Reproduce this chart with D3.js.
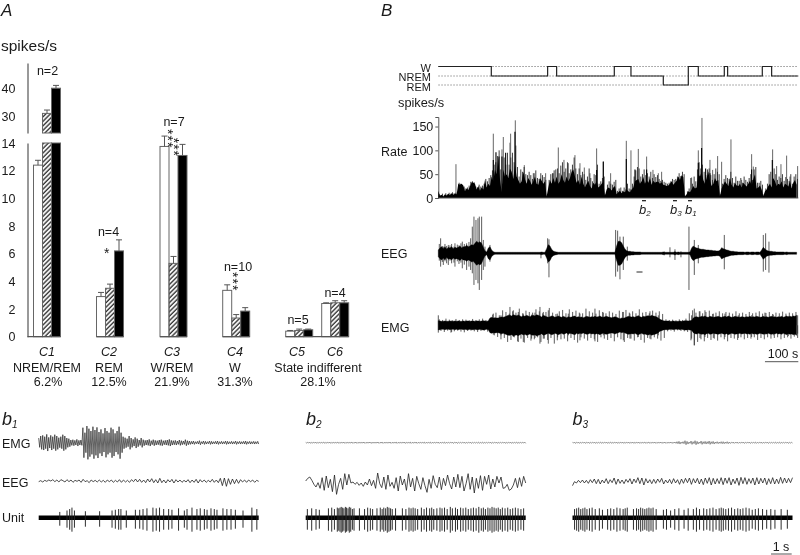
<!DOCTYPE html>
<html>
<head>
<meta charset="utf-8">
<script src="https://cdn.jsdelivr.net/npm/d3@7.9.0/dist/d3.min.js"></script>
<style>
  html, body { margin: 0; padding: 0; background: #fff; }
  svg { display: block; filter: blur(0.3px); }
  text { font-family: "Liberation Sans", Arial, sans-serif; fill: #1a1a1a; }
</style>
</head>
<body>
<svg id="fig" width="800" height="555"></svg>
<script>
// panel A
const categories = ["C1", "C2", "C3", "C4", "C5", "C6"];
const classNames = ["NREM/REM", "REM", "W/REM", "W", "", ""];
const classPct = ["6.2%", "12.5%", "21.9%", "31.3%", "", ""];
const cellCounts = ["n=2", "n=4", "n=7", "n=10", "n=5", "n=4"];
const wakeRates = [12.4, 2.9, 13.75, 3.35, 0.4, 2.4];
const wakeErrTop = [12.75, 3.2, 14.5, 3.75, 0.45, 2.45];
const nremRates = [31, 3.5, 5.3, 1.35, 0.45, 2.45];
const nremErrTop = [32.2, 3.8, 5.8, 1.6, 0.55, 2.6];
const remRates = [40, 6.2, 13.1, 1.85, 0.5, 2.45];
const remErrTop = [41, 7.0, 13.9, 2.1, 0.55, 2.6];
const lowTicks = [0, 2, 4, 6, 8, 10, 12, 14];
const highTicks = [30, 40];

// panel B, times in seconds
const hypnoSteps = [[0, 2], [159, 1], [328, 2], [355, 1], [528, 2], [578, 1], [675, 0], [750, 2], [780, 1], [858, 2], [868, 1], [972, 2], [1000, 1], [1080, 1]];
const hypnoStates = ["REM", "NREM", "W"];
const rateTicks = [0, 50, 100, 150];
// 5 s bins
const rateBins = [
  15,4,7,3,8,5,9,6,10,7,9,8,
  30,28,30,26,14,20,17,24,33,32,30,18,
  25,15,22,18,38,22,30,25,45,35,60,50,
  85,40,12,60,45,50,42,62,55,40,70,45,
  38,30,35,55,40,30,42,36,28,35,45,30,
  28,42,36,30,35,3,22,38,30,42,32,45,
  30,35,50,38,32,45,35,42,55,60,45,32,
  38,28,45,30,22,30,36,25,20,32,28,36,
  22,25,30,34,5,18,22,20,16,22,25,8,
  12,15,10,14,12,18,14,12,18,22,35,38,
  40,30,35,44,30,38,32,42,28,36,32,34,
  34,30,33,28,27,25,26,30,35,28,32,36,
  45,38,48,44,3,8,14,12,18,25,20,22,
  50,45,55,38,30,42,56,36,25,30,42,35,
  38,4,20,28,35,30,25,42,28,22,32,26,
  25,30,22,32,28,24,30,36,26,40,50,20,
  22,26,18,4,14,18,25,30,22,42,35,25,
  30,28,35,22,30,28,24,36,20,32,38,28
];
// tops of the thin bars between the bins
const rateTops = [
  8,6,9,5,10,7,11,9,12,10,11,12,
  32,30,27,24,20,22,26,34,35,33,24,22,
  28,24,26,30,40,35,42,48,58,70,75,88,
  100,60,30,85,70,95,70,85,95,75,110,65,
  45,60,55,65,50,48,55,48,40,52,58,42,
  40,52,48,44,38,6,38,50,52,58,60,62,
  52,68,75,55,62,75,52,60,70,85,62,50,
  62,48,55,50,38,45,62,42,35,50,48,70,
  30,35,42,45,8,28,35,30,28,34,38,15,
  20,22,15,22,18,30,20,18,30,45,58,65,
  62,45,50,60,48,52,45,55,42,50,44,48,
  40,36,38,34,32,30,32,35,40,38,40,45,
  52,46,55,50,5,14,20,42,30,45,35,60,
  75,62,70,55,48,60,62,48,38,50,62,55,
  50,8,30,40,48,42,40,55,42,32,45,36,
  36,42,32,45,38,34,42,50,38,60,65,32,
  32,36,28,8,20,30,50,55,40,62,50,38,
  45,42,50,36,44,40,36,50,30,45,50,40
];
const ratePeaksGray = [[53,71],[165,135],[191,102],[195,128],[215,116],[217,135],[231,163],[258,69],[285,52],[322,52],[345,52],[360,106],[377,80],[390,73],[410,90],[425,73],[438,64],[455,52],[475,104],[495,77],[517,52],[564,120],[578,100],[600,103],[625,87],[644,59],[660,52],[670,55],[760,43],[780,100],[791,168],[815,80],[823,59],[838,88],[850,76],[878,123],[910,38],[940,92],[945,66],[1003,102],[1015,67],[1028,71],[1045,89],[1055,45],[1078,67]];
const ratePeaksBlack = [[165,80],[173,96],[182,87],[191,87],[202,95],[230,139],[475,59],[495,76],[564,82],[590,60],[625,60],[790,105],[802,62],[940,60],[1002,80],[780,74],[815,52]];
// envelope half heights, 5 s bins
const eegCore = [
  10,16,20,14,20,12,18,16,20,14,18,16,
  18,22,16,20,20,24,20,22,26,24,30,36,
  32,35,30,18,8,4,16,20,10,5,3,3,
  3,3,3,3,3,3,3,3,3,3,3,3,
  3,3,3,3,3,3,3,3,3,3,3,3,
  3,3,4,3,3,14,26,22,12,7,5,4,
  3,3,3,3,3,3,3,3,3,3,3,3,
  3,3,3,3,3,3,3,3,3,3,3,3,
  3,3,3,3,3,3,3,3,3,3,3,22,
  36,36,32,22,13,8,6,6,5,5,4,4,
  4,4,3,3,3,3,3,3,3,3,3,3,
  3,3,3,4,3,3,3,3,3,3,5,3,
  4,3,3,3,3,3,3,4,16,22,18,16,
  15,13,12,12,11,10,10,9,9,8,8,7,
  7,9,17,14,12,10,9,7,6,6,5,5,
  4,4,4,4,3,4,4,3,4,4,3,4,
  4,3,10,18,13,9,7,6,6,5,5,4,
  4,4,4,4,3,4,3,3,3,3,3,3
];
const eegSpikes = [[3,28,22],[7,45,40],[12,22,26],[15,20,35],[20,28,24],[25,22,30],[30,25,35],[35,24,22],[40,28,30],[47,20,28],[50,30,40],[57,26,24],[62,24,32],[68,30,28],[72,35,45],[78,28,34],[85,30,50],[92,34,40],[97,45,50],[102,80,60],[107,110,95],[113,100,80],[119,105,90],[123,110,110],[130,110,80],[135,40,50],[140,20,40],[155,25,25],[308,3,15],[328,45,30],[332,42,72],[532,70,70],[538,68,55],[545,50,78],[555,50,50],[567,20,22],[678,5,6],[695,18,12],[710,12,20],[728,6,12],[752,80,110],[768,40,65],[780,25,30],[858,55,48],[975,55,55],[982,60,50],[992,35,58]];
const emgCore = [
  14,13,12,12,13,12,12,13,12,12,13,12,
  13,12,12,13,12,13,13,12,13,13,12,13,
  13,12,13,14,13,12,13,22,24,22,23,22,
  22,24,25,24,26,28,30,30,28,32,30,29,
  31,28,26,29,27,30,28,26,29,30,28,32,
  30,28,25,30,28,26,24,26,28,27,24,26,
  28,26,24,27,25,23,26,24,25,27,28,24,
  26,24,25,23,25,27,26,24,26,25,27,25,
  26,28,25,24,26,27,25,24,23,24,26,24,
  22,20,22,21,23,25,27,26,25,26,24,27,
  28,26,24,27,26,28,29,27,30,28,27,25,
  22,18,16,14,13,13,13,12,12,13,12,12,
  12,13,12,13,14,14,13,14,15,22,25,26,
  24,25,27,26,28,25,24,27,26,24,25,26,
  27,25,24,26,27,25,28,26,24,25,27,26,
  25,24,26,25,24,26,25,27,24,26,25,27,
  26,24,25,27,25,26,24,26,27,25,26,24,
  26,25,27,24,26,28,25,27,26,28,27,30
];
// thin deflections around the envelope, 10 s bins
const emgFringeUp = [18,16,20,17,15,19,16,18,17,15,19,16,18,20,16,17,32,38,30,45,40,35,42,38,50,36,44,40,38,48,42,36,40,52,38,34,42,46,36,48,40,44,38,36,50,42,38,35,45,40,36,42,38,34,44,40,46,38,42,36,48,38,40,36,44,38,42,34,18,16,17,15,18,16,20,36,45,38,42,36,40,44,34,38,42,36,40,38,35,42,36,38,34,40,36,38,42,35,37,40,34,38,36,41,35,38,36,40];
const emgFringeDown = [17,20,16,22,18,16,19,21,17,16,18,20,17,16,19,18,30,35,42,38,50,44,36,48,40,52,38,46,42,36,50,40,44,38,55,36,42,40,48,38,44,52,36,40,46,38,42,50,36,40,44,38,48,36,42,50,38,40,46,36,44,52,38,42,36,40,46,38,18,16,19,15,17,18,20,45,60,50,42,48,38,44,40,46,36,42,48,38,40,44,36,42,38,40,36,44,38,42,36,40,38,36,42,38,36,40,34,38];
const emgSpikes = [[0,30,22],[40,14,20],[165,35,28],[188,30,30],[215,55,30],[225,45,35],[240,40,50],[255,35,50],[280,32,40],[290,38,38],[305,55,55],[315,40,40],[330,45,55],[357,35,45],[390,35,30],[425,35,45],[470,50,48],[495,38,30],[555,40,45],[575,35,40],[600,30,35],[635,42,40],[660,30,30],[768,50,60],[760,30,40],[785,42,38],[800,45,35],[825,35,38],[860,35,35],[900,30,38],[940,30,35],[980,38,28],[1005,32,30],[1050,28,32],[1078,30,25]];
const markers = [["b", "2", 617], ["b", "3", 710], ["b", "1", 755]];

// panel b traces
const b1Emg = [14,20,22,18,25,16,22,18,24,20,15,18,24,20,14,12,8,9,7,10,7,8,45,30,50,42,35,48,38,46,32,40,28,44,35,30,45,40,28,35,48,30,18,15,12,20,14,10,16,12,8,14,9,7,8,10,6,9,7,6,8,9,6,7,8,10,7,6,7,5,8,6,5,9,6,5,4,5,3,4,6,3,5,4,3,5,4,3,4,5,3,4,3,5,4,3,4,3,5,3,4,3,4,5,3,4,3,4,3,4];
const b2Emg = [1,1,2,1,1,2,1,1,1,2,1,1,2,1,1,1,2,1,1,2,1,1,1,2,1,2,1,1,1,2,1,1,2,1,1,1,2,1,2,1,1,1,2,1,1,2,1,1,1,2,1,1,2,1,1,2,1,1,1,2,1,1,2,1,1,1,2,1,1,2,1,1,1,2,1,2,1,1,1,2,1,1,2,1,1,1,2,1,2,1,1,1,2,1,1,2,1,1,1,2,1,1,2,1,1,2,1,1,1,2];
const b3Emg = [1,2,1,2,1,1,2,1,2,1,1,2,1,1,2,1,1,2,1,2,1,1,2,1,1,2,1,1,2,1,2,1,1,2,1,1,2,1,2,1,1,2,1,1,2,1,2,1,1,2,1,2,3,4,2,3,6,4,2,5,3,6,4,2,5,3,4,3,5,3,4,2,3,2,3,3,2,3,2,1,2,1,2,1,1,2,1,1,2,1,1,2,1,1,2,1,1,2,1,1,1,2,1,2,1,1,1,2,1,1];
const b1Eeg = [-2,1,-3,2,-1,3,0,4,-2,3,-3,4,1,-3,4,-2,3,-4,2,-1,3,-4,5,-2,1,-5,3,-2,2,-3,3,-3,2,-4,3,-2,3,-4,2,-3,4,-4,3,-3,2,-4,4,-2,6,-3,5,-4,3,-5,6,-3,7,-5,4,-6,8,-5,3,-6,4,-3,5,-6,4,-3,3,-4,2,-3,4,-5,3,-4,5,-6,4,-3,3,-4,2,-3,5,-4,3,-5,8,-14,9,-16,7,-10,6,-8,5,-7,4,-3,3,-4,3,-2,3,-4,2,-1];
const b2Eeg = [0,8,12,2,-10,-18,-5,-22,10,-28,15,-20,5,-32,18,-40,-10,8,-25,22,-12,20,-6,-3,-10,-4,-13,-6,-16,-3,-12,6,-14,2,-22,24,-8,-20,12,-25,18,-16,-4,-22,10,-30,15,-12,6,-28,22,-18,8,-30,14,-8,-25,10,-14,-34,5,-22,16,-10,-20,12,-26,8,-14,18,-8,-24,12,-18,20,-20,14,-30,-8,22,-25,12,-36,8,-22,16,-28,14,-10,18,-24,6,-18,14,-6,12,-22,-20,-10,-28,-24,-12,8,-20,10,-16,14,-6];
const b3Eeg = [-14,-2,-6,2,-5,3,-6,2,-7,4,-5,6,-8,5,-9,3,-6,7,-8,4,-5,9,-10,6,-7,3,-8,5,-4,7,-9,6,-5,10,-8,9,-12,7,-6,4,-8,5,-7,6,-4,8,-9,3,-6,5,-8,7,-6,4,-10,6,-7,8,-5,9,-10,7,-6,8,-9,6,-11,9,-7,10,-12,8,-9,7,-8,10,-11,9,-7,10,-12,6,-8,9,-13,11,-8,10,-10,7,-7,9,-12,10,-9,8,-6,9,-11,7,-8,10,-9,6,-8,11,-7,9,-6,8,-5,10];
const b1Spikes = [1.02,1.37,1.5,1.61,1.73,2.26,2.95,3.55,3.71,3.87,3.98,4.24,4.68,4.89,5.05,5.24,5.53,5.69,5.85,6.05,6.29,6.45,6.77,7.05,7.18,7.42,7.66,7.82,8.02,8.15,8.34,8.5,8.63,8.92,9.11,9.31,9.52,9.89,10.32,10.56];
const b1Depth = [8,10,12,14,10,9,9,10,11,12,12,10,11,11,12,13,14,13,14,12,12,11,13,10,12,14,12,13,12,11,13,12,11,13,12,12,11,10,14,12];
const b2Spikes = [.08,.29,.5,.66,1.1,1.26,1.39,1.53,1.6,1.66,1.72,1.79,1.85,1.92,1.98,2.05,2.11,2.18,2.26,2.34,2.6,2.85,3.0,3.13,3.24,3.45,3.61,3.7,3.78,3.87,3.95,4.03,4.11,4.19,4.35,4.68,4.85,5.0,5.1,5.2,5.3,5.42,5.6,5.73,5.85,6.0,6.1,6.2,6.35,6.5,6.6,6.72,6.85,7.0,7.1,7.25,7.35,7.5,7.62,7.75,7.87,8.0,8.12,8.25,8.38,8.5,8.6,8.7,8.82,8.92,9.02,9.12,9.22,9.32,9.42,9.52,9.65,9.78,9.9,10.02,10.15,10.28,10.42,10.55];
const b2Depth = [12,13,12,11,13,14,12,14,13,14,15,14,13,15,14,13,15,14,12,13,13,12,14,13,12,13,14,12,14,13,15,14,13,12,13,13,12,14,13,14,13,12,14,12,14,13,14,12,13,14,13,14,12,15,13,14,12,14,13,14,12,13,14,13,15,13,14,12,14,13,15,14,13,14,12,14,13,14,12,13,14,13,12,13];
const b3Spikes = [.1,.2,.3,.4,.5,.6,.7,.82,.95,1.1,1.3,1.45,1.7,1.85,2.0,2.15,2.3,2.45,2.55,2.65,2.95,3.1,3.2,3.3,3.4,3.5,3.6,3.7,3.8,3.9,4.05,4.4,4.55,4.75,4.95,5.15,5.4,5.6,5.85,6.0,6.15,6.35,6.5,6.65,6.8,6.95,7.1,7.2,7.3,7.42,7.55,7.7,7.85,8.0,8.12,8.25,8.4,8.55,8.7,8.85,9.0,9.2,9.4,9.6,9.8,10.1,10.4];
const b3Depth = [12,13,14,12,13,14,12,13,14,12,13,11,12,13,12,14,13,12,13,14,12,13,12,14,13,12,13,14,13,14,12,11,12,10,12,13,11,13,12,14,12,13,12,13,14,12,13,14,13,12,13,14,12,13,12,13,14,13,11,12,13,12,11,12,11,12,11];

const svg = d3.select("#fig");
const ink = "#111";
const soft = "#555";

function label(str, x, y, size, opts = {}) {
    return svg.append("text")
        .attr("x", x)
        .attr("y", y)
        .attr("font-size", size)
        .attr("text-anchor", opts.anchor || "start")
        .attr("font-style", opts.italic ? "italic" : "normal")
        .text(str);
}

// hatch fill
svg.append("defs").append("pattern")
    .attr("id", "hatch")
    .attr("width", 3.2)
    .attr("height", 3.2)
    .attr("patternUnits", "userSpaceOnUse")
    .attr("patternTransform", "rotate(45)")
    .append("line")
    .attr("x1", 1).attr("x2", 1).attr("y1", 0).attr("y2", 3.2)
    .attr("stroke", "#333").attr("stroke-width", 1.4);

/* ---------- A ---------- */
label("A", 1, 15.5, 17, { italic: true });
label("spikes/s", 1, 51, 15.5);

const yLow = d3.scaleLinear().domain([0, 14]).range([336.7, 143]);
const yHigh = d3.scaleLinear().domain([24, 49]).range([133, 63]);
const groupX = d3.scaleOrdinal().domain(categories).range([33.5, 96.5, 160, 222.7, 285.7, 321.7]);
const barW = 9;
const breakAt = 14;

[[yLow, lowTicks], [yHigh, highTicks]].forEach(([scale, ticks]) => {
    const g = svg.append("g")
        .attr("transform", "translate(27.5,0)")
        .call(d3.axisLeft(scale).tickValues(ticks).tickSize(0).tickPadding(12));
    g.selectAll("text").attr("font-size", 12.5).attr("font-family", null);
    g.select(".domain").attr("stroke", soft).attr("stroke-width", 1.2);
});

const barRows = [];
categories.forEach((c, i) => {
    barRows.push({ c, slot: 0, v: wakeRates[i], err: wakeErrTop[i], fill: "#fff" });
    barRows.push({ c, slot: 1, v: nremRates[i], err: nremErrTop[i], fill: "url(#hatch)" });
    barRows.push({ c, slot: 2, v: remRates[i], err: remErrTop[i], fill: "#000" });
});

const barX = (d) => groupX(d.c) + d.slot * barW;

svg.append("g").selectAll("rect")
    .data(barRows)
    .join("rect")
    .attr("x", barX)
    .attr("width", barW)
    .attr("y", (d) => yLow(Math.min(d.v, breakAt)))
    .attr("height", (d) => yLow(0) - yLow(Math.min(d.v, breakAt)))
    .attr("fill", (d) => d.fill)
    .attr("stroke", "#666");

// part of the bar above the axis break
svg.append("g").selectAll("rect")
    .data(barRows.filter((d) => d.v > breakAt))
    .join("rect")
    .attr("x", barX)
    .attr("width", barW)
    .attr("y", (d) => yHigh(d.v))
    .attr("height", (d) => yHigh(24) - yHigh(d.v))
    .attr("fill", (d) => d.fill)
    .attr("stroke", "#666");

svg.append("g").selectAll("path")
    .data(barRows)
    .join("path")
    .attr("fill", "none")
    .attr("stroke", "#555")
    .attr("d", (d) => {
        const y = d.v > breakAt ? yHigh : yLow;
        const cx = barX(d) + barW / 2;
        return `M${cx},${y(d.v)}V${y(d.err)}M${cx - 3},${y(d.err)}H${cx + 3}`;
    });

// baselines under the groups
[["C1", "C1"], ["C2", "C2"], ["C3", "C3"], ["C4", "C4"], ["C5", "C6"]].forEach(([a, b]) => {
    svg.append("line")
        .attr("x1", a === "C1" ? 27.5 : groupX(a))
        .attr("x2", groupX(b) + 3 * barW)
        .attr("y1", yLow(0)).attr("y2", yLow(0))
        .attr("stroke", soft).attr("stroke-width", 1.2);
});

const nLabelPos = [[47.5, 74.5], [108.5, 236], [174, 125.5], [238, 270.5], [298, 324], [335, 296.5]];
cellCounts.forEach((n, i) => label(n, nLabelPos[i][0], nLabelPos[i][1], 12.5, { anchor: "middle" }));

// significance stars, stacked as one vertical string
label("*", 106.7, 258, 14, { anchor: "middle" });
const starStacks = [[168, 129], [174.3, 137.7], [232.5, 272]];
starStacks.forEach(([x, y]) => {
    label("***", x, y, 14)
        .attr("writing-mode", "vertical-rl")
        .attr("letter-spacing", 1);
});

const catCenters = [47, 109, 172, 235, 297, 335];
categories.forEach((c, i) => {
    label(c, catCenters[i], 356, 12.5, { anchor: "middle", italic: true });
    if (classNames[i]) {
        label(classNames[i], catCenters[i], 372, 12.5, { anchor: "middle" });
        label(classPct[i], catCenters[i] + (i === 0 ? 1 : 0), 386, 12.5, { anchor: "middle" });
    }
});
label("State indifferent", 318, 372, 12.5, { anchor: "middle" });
label("28.1%", 318, 386, 12.5, { anchor: "middle" });

/* ---------- B ---------- */
label("B", 381, 15.5, 17, { italic: true });

const xTime = d3.scaleLinear().domain([0, 1080]).range([438.3, 798.3]);
const yHypno = d3.scaleOrdinal().domain(hypnoStates.map((_, i) => i)).range([85, 76, 66.5]);

hypnoStates.forEach((s, i) => {
    svg.append("line")
        .attr("x1", xTime(0)).attr("x2", xTime(1080))
        .attr("y1", yHypno(i)).attr("y2", yHypno(i))
        .attr("stroke", "#777").attr("stroke-width", 0.8).attr("stroke-dasharray", "1.5,1.5");
});
label("W", 431, 71.5, 11, { anchor: "end" });
label("NREM", 431, 81, 11, { anchor: "end" });
label("REM", 431, 90.5, 11, { anchor: "end" });

svg.append("path")
    .attr("fill", "none")
    .attr("stroke", "#222")
    .attr("stroke-width", 1.2)
    .attr("d", d3.line().x((d) => xTime(d[0])).y((d) => yHypno(d[1])).curve(d3.curveStepAfter)(hypnoSteps));

label("spikes/s", 398, 107, 12.8);
label("Rate", 381, 155.5, 12.5);

const yRate = d3.scaleLinear().domain([0, 170]).range([198, 117]);
const rateAxis = svg.append("g")
    .attr("transform", `translate(${xTime(0)},0)`)
    .call(d3.axisLeft(yRate).tickValues(rateTicks).tickSize(3).tickPadding(2));
rateAxis.selectAll("text").attr("font-size", 12.5).attr("font-family", null);
rateAxis.selectAll("line, .domain").attr("stroke", soft);

function drawPeaks(list, color, w) {
    svg.append("g").selectAll("line")
        .data(list)
        .join("line")
        .attr("x1", (d) => xTime(d[0])).attr("x2", (d) => xTime(d[0]))
        .attr("y1", yRate(0)).attr("y2", (d) => yRate(d[1]))
        .attr("stroke", color).attr("stroke-width", w);
}
drawPeaks(ratePeaksGray, "#666", 1);
drawPeaks(rateTops.map((v, i) => [i * 5 + 2.5, v]), "#2a2a2a", 0.9);
drawPeaks(ratePeaksBlack, "#000", 1.1);

svg.append("path")
    .attr("fill", "#000")
    .attr("d", d3.area()
        .x((d, i) => xTime(i * 5))
        .y0(yRate(0))
        .y1((d) => yRate(d))(rateBins));

svg.append("line")
    .attr("x1", xTime(0)).attr("x2", xTime(1080))
    .attr("y1", yRate(0)).attr("y2", yRate(0))
    .attr("stroke", soft);

markers.forEach(([b, sub, t]) => {
    const x = xTime(t);
    const lab = label(b, x - 5, 214, 13, { italic: true });
    lab.append("tspan").attr("font-size", 8).attr("dy", 2).text(sub);
    svg.append("line")
        .attr("x1", x - 2).attr("x2", x + 2)
        .attr("y1", 200.7).attr("y2", 200.7)
        .attr("stroke", ink).attr("stroke-width", 1.2);
});

// EEG and EMG overview: thin deflections first, black envelope over them
function overview(core, spikes, centerY, fringeUp, fringeDown) {
    const yAmp = d3.scaleLinear().domain([-120, 120]).range([centerY + 40, centerY - 40]);
    const area = d3.area()
        .x((d, i) => xTime(i * 5))
        .y0((d) => yAmp(-d))
        .y1((d) => yAmp(d));
    const thin = svg.append("g").attr("stroke", "#333").attr("stroke-width", 0.8);
    thin.selectAll("line.spike")
        .data(spikes)
        .join("line")
        .attr("class", "spike")
        .attr("x1", (d) => xTime(d[0])).attr("x2", (d) => xTime(d[0]))
        .attr("y1", (d) => yAmp(d[1])).attr("y2", (d) => yAmp(-d[2]));
    if (fringeUp) {
        thin.selectAll("line.up")
            .data(fringeUp)
            .join("line")
            .attr("class", "up")
            .attr("x1", (d, i) => xTime(i * 10 + 3)).attr("x2", (d, i) => xTime(i * 10 + 3))
            .attr("y1", (d) => yAmp(d)).attr("y2", yAmp(0));
        thin.selectAll("line.down")
            .data(fringeDown)
            .join("line")
            .attr("class", "down")
            .attr("x1", (d, i) => xTime(i * 10 + 8)).attr("x2", (d, i) => xTime(i * 10 + 8))
            .attr("y1", yAmp(0)).attr("y2", (d) => yAmp(-d));
    }
    svg.append("path").attr("d", area(core)).attr("fill", "#000").attr("stroke", "#000").attr("stroke-width", 0.4);
}

label("EEG", 381, 258, 12.5);
overview(eegCore, eegSpikes, 253.3);
svg.append("line")
    .attr("x1", 636.5).attr("x2", 642.5).attr("y1", 272).attr("y2", 272)
    .attr("stroke", ink).attr("stroke-width", 0.9);

label("EMG", 381, 332, 12.5);
overview(emgCore, emgSpikes, 325.3, emgFringeUp, emgFringeDown);

label("100 s", 783, 358, 12.5, { anchor: "middle" });
svg.append("line")
    .attr("x1", xTime(980)).attr("x2", xTime(1080))
    .attr("y1", 361.7).attr("y2", 361.7)
    .attr("stroke", soft).attr("stroke-width", 1);

/* ---------- b1 b2 b3 ---------- */
const traceW = 220;
const panels = [
    { name: "1", left: 38.7, titleX: 2, emg: b1Emg, eeg: b1Eeg, spikes: b1Spikes, depth: b1Depth },
    { name: "2", left: 305.7, titleX: 306, emg: b2Emg, eeg: b2Eeg, spikes: b2Spikes, depth: b2Depth },
    { name: "3", left: 572.5, titleX: 572.5, emg: b3Emg, eeg: b3Eeg, spikes: b3Spikes, depth: b3Depth },
];

label("EMG", 2, 448, 12.5);
label("EEG", 2, 486.5, 12.5);
label("Unit", 2, 521.5, 12.5);

panels.forEach((p) => {
    const t = label("b", p.titleX, 425, 18, { italic: true });
    t.append("tspan").attr("font-size", 10).attr("dy", 3).text(p.name);

    // each EMG value is one up and down swing
    const emgSwings = p.emg.flatMap((d) => [d, -d]);
    const xEmg = d3.scaleLinear().domain([0, emgSwings.length - 1]).range([p.left, p.left + traceW]);
    const yEmg = d3.scaleLinear().domain([-60, 60]).range([462.7, 422.7]);
    svg.append("path")
        .attr("fill", "none")
        .attr("stroke", p.name === "1" ? "#222" : "#666")
        .attr("stroke-width", 0.7)
        .attr("d", d3.line().x((d, i) => xEmg(i)).y((d) => yEmg(d))(emgSwings));

    const xEeg = d3.scaleLinear().domain([0, p.eeg.length - 1]).range([p.left, p.left + traceW]);
    const yEeg = d3.scaleLinear().domain([-60, 60]).range([501, 461]);
    svg.append("path")
        .attr("fill", "none")
        .attr("stroke", "#222")
        .attr("stroke-width", 0.8)
        .attr("d", d3.line().x((d, i) => xEeg(i)).y((d) => yEeg(d))(p.eeg));

    const xUnit = d3.scaleLinear().domain([0, 10.65]).range([p.left, p.left + traceW]);
    svg.append("line")
        .attr("x1", xUnit(0)).attr("x2", xUnit(10.65))
        .attr("y1", 517.7).attr("y2", 517.7)
        .attr("stroke", "#000").attr("stroke-width", 4.4);
    svg.append("g").selectAll("line")
        .data(p.spikes)
        .join("line")
        .attr("x1", (d) => xUnit(d)).attr("x2", (d) => xUnit(d))
        .attr("y1", (d, i) => 517.7 - p.depth[i] * 0.72)
        .attr("y2", (d, i) => 517.7 + p.depth[i])
        .attr("stroke", "#222").attr("stroke-width", 0.95);
});

label("1 s", 781, 551, 12.5, { anchor: "middle" });
svg.append("line")
    .attr("x1", 771).attr("x2", 791.7)
    .attr("y1", 554).attr("y2", 554)
    .attr("stroke", soft).attr("stroke-width", 1);
</script>
</body>
</html>
